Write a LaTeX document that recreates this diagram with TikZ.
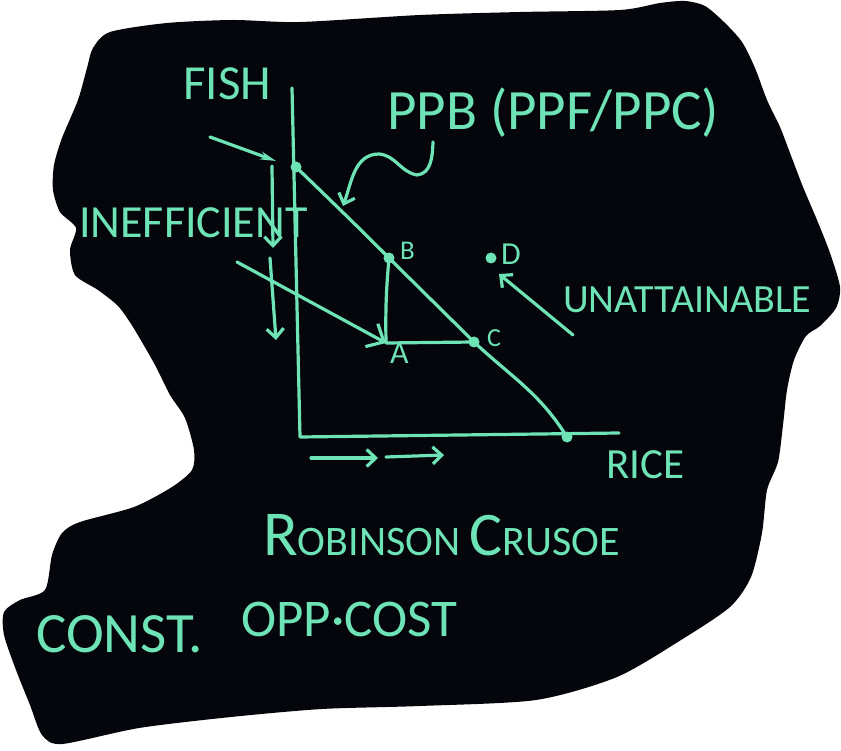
\documentclass[tikz,border=0pt]{standalone}
\usepackage{fontspec}
\setmainfont{Carlito}
\usetikzlibrary{arrows.meta}
\definecolor{chalk}{RGB}{110,228,182}
\definecolor{board}{RGB}{4,6,12}
\newcommand\hand[1]{\fontsize{#1}{#1}\selectfont}

\begin{document}
\begin{tikzpicture}[x=1pt, y=1pt, line cap=round, line join=round,
  line/.style={draw=chalk, line width=3.2pt},
  arr/.style={line, -{Straight Barb[length=9pt, width=17pt]}},
  dot/.style={fill=chalk, circle, inner sep=0pt, minimum size=11pt},
  txt/.style={text=chalk, inner sep=0pt, anchor=base west, font=\hand{#1}},
  txt/.default=40]
  \fill[white] (0,0) rectangle (841,-751);
  \useasboundingbox (0,0) rectangle (841,-751);
  % the black board
  \fill[board] plot[smooth cycle, tension=0.45] coordinates {
    (110,-32) (167,-23) (233,-20) (300,-22) (420,-15) (520,-12) (620,-10)
    (660,-3) (685,-1) (705,-6) (724,-22) (742,-42) (755,-68) (767,-100)
    (780,-127) (790,-153) (803,-187) (817,-220) (830,-253) (840,-287)
    (836,-308) (820,-326) (806,-336) (794,-360) (787,-390) (783,-425)
    (778,-462) (767,-490) (762,-533) (751,-577) (730,-607) (681,-640)
    (617,-677) (536,-700) (420,-706) (322,-709) (231,-717) (139,-728)
    (62,-744) (42,-735) (30,-705) (16,-670) (4,-635) (4,-612) (20,-600)
    (45,-590) (52,-555) (62,-533) (80,-522) (134,-507) (172,-487)
    (192,-470) (194,-450) (185,-418) (170,-395) (155,-365) (133,-327)
    (118,-306) (98,-290) (75,-275) (70,-250) (76,-228) (60,-212)
    (53,-190) (54,-165) (62,-138) (78,-100) (87,-68) (93,-48)};

  % axes and frontier
  \coordinate (ytop) at (292,-88);
  \coordinate (origin) at (300,-437);
  \coordinate (xend) at (619,-433);
  \coordinate (ppftop) at (296,-167);
  \coordinate (B) at (389,-258);
  \coordinate (C) at (474,-342);
  \coordinate (A) at (386,-343);
  \coordinate (xint) at (567,-437);
  \coordinate (D) at (491,-258);
  \draw[line] (ytop) -- (origin) -- (xend);
  \draw[line] (ppftop) to[out=-44, in=135] (B) -- (C) to[out=-43, in=122] (xint);
  \draw[line] (B) to[bend right=3] (A) -- (C);
  \foreach \p in {ppftop, B, C, xint, D}
    \node[dot] at (\p) {};

  % labels
  \node[txt=49] (fish) at (183,-100) {FISH};
  \node[txt=57] (ppb) at (387,-130) {PPB (PPF/PPC)};
  \node[txt=46] (ineff) at (79,-238) {INEFFICIENT};
  \node[txt=27] (lblB) at (400,-260) {B};
  \node[txt=26] (lblC) at (487,-347) {C};
  \node[txt=32] (lblA) at (390,-363) {A};
  \node[txt=32] (lblD) at (501,-265) {D};
  \node[txt=40] (unatt) at (563,-313) {UNATTAINABLE};
  \node[txt=43] (rice) at (606,-478) {RICE};
  \node[txt] (title) at (263,-555)
    {{\hand{64}R}{\hand{42}OBINSON} {\hand{62}C}{\hand{42}RUSOE}};
  \node[txt=57] (constlbl) at (36,-652) {CONST.};
  \node[txt=53] (oppcost) at (241,-636) {OPP·COST};

  % arrows
  \coordinate (sqA) at (433,-142);
  \coordinate (sqB) at (417,-175);
  \coordinate (sqC) at (379,-154);
  \coordinate (sqTip) at (343,-206);
  \draw[arr] (sqA) to[out=-92, in=5] (sqB) to[out=170, in=-5] (sqC)
    to[out=180, in=70] (sqTip);
  \coordinate (ineffA) at (210,-137);
  \coordinate (ineffB) at (276,-161);
  \draw[line, -{Stealth[length=16pt, width=8pt]}] (ineffA) -- (ineffB);
  \coordinate (dn1a) at (272,-166);
  \coordinate (dn1b) at (273,-248);
  \coordinate (dn2a) at (270,-258);
  \coordinate (dn2b) at (276,-340);
  \draw[arr] (dn1a) -- (dn1b);
  \draw[arr] (dn2a) -- (dn2b);
  \coordinate (toA) at (237,-262);
  \draw[arr, -{Straight Barb[length=14pt, width=26pt]}] (toA) -- (A);
  \coordinate (toD) at (573,-335);
  \coordinate (nearD) at (499,-274);
  \draw[arr] (toD) -- (nearD);
  \coordinate (r1a) at (311,-458);
  \coordinate (r1b) at (378,-458);
  \coordinate (r2a) at (386,-457);
  \coordinate (r2b) at (444,-455);
  \draw[arr] (r1a) -- (r1b);
  \draw[arr] (r2a) -- (r2b);
\end{tikzpicture}
\end{document}
